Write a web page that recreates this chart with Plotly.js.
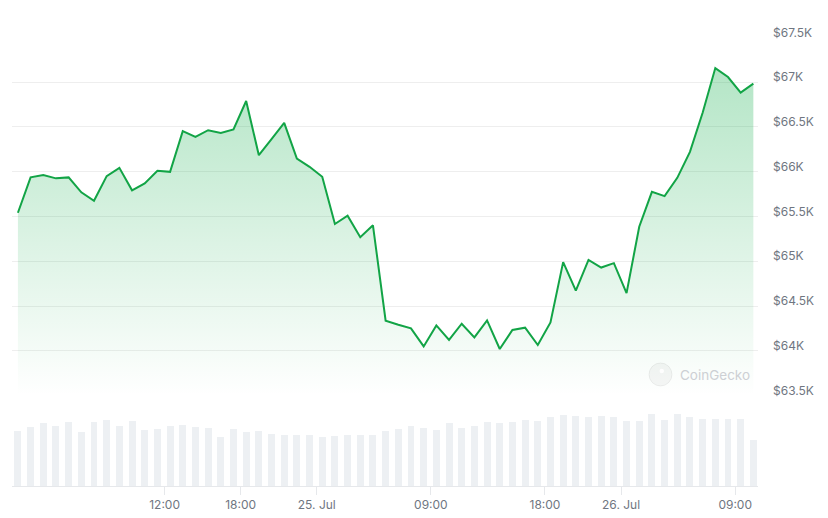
<!DOCTYPE html>
<html>
<head>
<meta charset="utf-8">
<script src="https://cdn.plot.ly/plotly-3.0.1.min.js"></script>
<style>html,body{margin:0;padding:0;background:#fff;}#chart{width:828px;height:518px;}</style>
</head>
<body>
<div id="chart"></div>
<script>
// Hourly BTC price (USD) from 24 Jul 2024 00:26 onward
const startTime = '2024-07-24T00:26:00';
const prices = [
  65542, 65937, 65962, 65926, 65937, 65770, 65676, 65951, 66044, 65792,
  65870, 66010, 65999, 66453, 66389, 66464, 66434, 66472, 66790, 66185,
  66363, 66545, 66148, 66055, 65943, 65416, 65509, 65268, 65402, 64336,
  64291, 64250, 64049, 64283, 64121, 64302, 64150, 64339, 64020, 64232,
  64258, 64065, 64317, 64990, 64673, 65015, 64930, 64979, 64644, 65386,
  65776, 65728, 65932, 66222, 66659, 67158, 67058, 66884, 66984
];
// Hourly volume (billions USD)
const volumes = [
  1.38, 1.48, 1.58, 1.50, 1.60, 1.35, 1.60, 1.65, 1.50, 1.63,
  1.40, 1.43, 1.50, 1.53, 1.48, 1.45, 1.23, 1.43, 1.35, 1.38,
  1.30, 1.28, 1.28, 1.28, 1.23, 1.25, 1.28, 1.28, 1.28, 1.38,
  1.43, 1.50, 1.45, 1.40, 1.58, 1.45, 1.50, 1.60, 1.58, 1.60,
  1.65, 1.63, 1.73, 1.78, 1.75, 1.73, 1.75, 1.73, 1.63, 1.63,
  1.80, 1.65, 1.80, 1.73, 1.68, 1.68, 1.68, 1.68, 1.15
];
const xTickVals = ['2024-07-24 12:00', '2024-07-24 18:00', '2024-07-25 00:00', '2024-07-25 09:00',
                   '2024-07-25 18:00', '2024-07-26 00:00', '2024-07-26 09:00'];
const xTickText = ['12:00', '18:00', '25. Jul', '09:00', '18:00', '26. Jul', '09:00'];
const yTickVals = [63500, 64000, 64500, 65000, 65500, 66000, 66500, 67000, 67500];
const yTickText = ['$63.5K', '$64K', '$64.5K', '$65K', '$65.5K', '$66K', '$66.5K', '$67K', '$67.5K'];

const t0 = new Date(startTime + 'Z').getTime();
const times = prices.map((_, i) => {
  const d = new Date(t0 + i * 3600000);
  return d.toISOString().slice(0, 19).replace('T', ' ');
});

const font = 'Inter, "Noto Sans", "DejaVu Sans", sans-serif';
const gray = '#6f7681';

const volumeTrace = {
  type: 'bar', x: times, y: volumes, xaxis: 'x', yaxis: 'y',
  marker: {color: '#edf0f3', line: {width: 0}},
  width: 0.55 * 3600000,
  hoverinfo: 'skip'
};
const priceTrace = {
  type: 'scatter', mode: 'lines', x: times, y: prices, xaxis: 'x', yaxis: 'y2',
  line: {color: '#12a446', width: 2},
  fill: 'tozeroy',
  fillgradient: {
    type: 'vertical', start: 63500, stop: 67200,
    colorscale: [[0, 'rgba(0,168,62,0.0)'], [1, 'rgba(0,168,62,0.30)']]
  },
  hoverinfo: 'skip'
};

const layout = {
  width: 828, height: 518,
  margin: {l: 12, r: 70, t: 0, b: 32},
  paper_bgcolor: '#ffffff', plot_bgcolor: '#ffffff',
  showlegend: false,
  font: {family: font, size: 12, color: gray},
  bargap: 0,
  xaxis: {
    type: 'date',
    range: ['2024-07-23 23:58', '2024-07-26 10:48'],
    anchor: 'y',
    showgrid: false, zeroline: false,
    showline: true, linecolor: '#e6e8eb', linewidth: 1,
    ticks: 'outside', ticklen: 8, tickcolor: '#e6e8eb', tickwidth: 1,
    tickmode: 'array', tickvals: xTickVals, ticktext: xTickText,
    tickfont: {family: font, size: 12, color: gray}
  },
  yaxis: {
    domain: [0, 0.1646],
    range: [0, 2.0],
    showgrid: false, zeroline: false, showline: false,
    showticklabels: false, ticks: ''
  },
  yaxis2: {
    domain: [0.18519, 0.92387],
    range: [63495, 67505],
    anchor: 'x', side: 'right',
    showgrid: true, gridcolor: '#eeeeee', gridwidth: 1,
    zeroline: false, showline: false, ticks: '',
    tickmode: 'array', tickvals: yTickVals, ticktext: yTickText,
    tickfont: {family: font, size: 12, color: gray},
    ticklabelstandoff: 14,
    ticklabelshift: -5
  },
  shapes: [
    {type: 'circle', xref: 'paper', yref: 'paper',
     x0: 0.8539, x1: 0.8847, y0: 0.2058, y1: 0.2531,
     fillcolor: 'rgba(0,0,0,0.035)', line: {color: 'rgba(0,0,0,0.06)', width: 1}},
    {type: 'circle', xref: 'paper', yref: 'paper',
     x0: 0.8680, x1: 0.8740, y0: 0.2320, y1: 0.2410,
     fillcolor: 'rgba(255,255,255,0.9)', line: {width: 0}}
  ],
  annotations: [
    {xref: 'paper', yref: 'paper', x: 0.9424, y: 0.2294, xanchor: 'center', yanchor: 'middle',
     text: 'CoinGecko', showarrow: false,
     font: {family: font, size: 13.5, color: '#cdd0d4'}}
  ]
};

Plotly.newPlot('chart', [volumeTrace, priceTrace], layout, {displayModeBar: false, staticPlot: true});
</script>
</body>
</html>
